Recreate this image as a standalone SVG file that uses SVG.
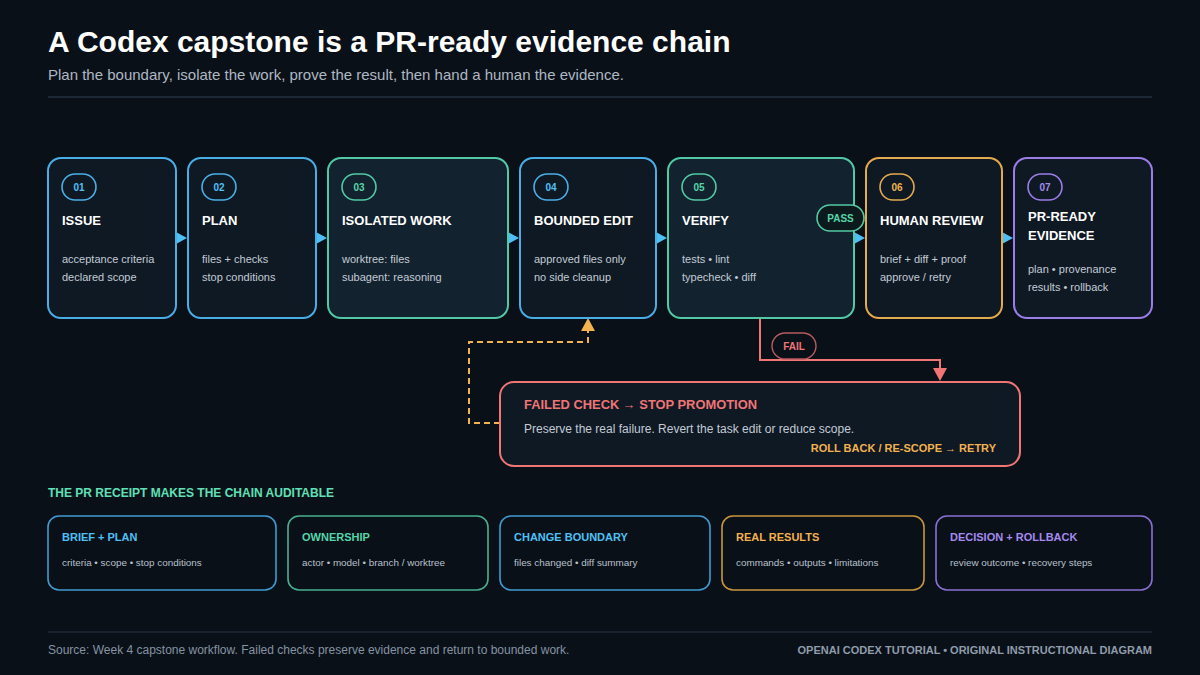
<svg xmlns="http://www.w3.org/2000/svg" width="1200" height="675" viewBox="0 0 1200 675">
<defs>
<style>
text{font-family:"Liberation Sans",Arial,sans-serif}
.node{stroke-width:2}
.blue{stroke:#4aaee6}
.green{stroke:#52c9a4}
.orange{stroke:#e3aa4e}
.purple{stroke:#9a7de6}
.fillA{fill:#0f1924}
.fillB{fill:#13222f}
.badge{fill:none;stroke-width:1.6}
.bnum{font-size:10px;font-weight:bold;text-anchor:middle}
.ttl{font-size:13px;font-weight:bold;fill:#ffffff}
.body{font-size:11px;fill:#c3cbd5}
.card{fill:#0a1018;stroke-width:1.6}
.ctitle{font-size:11px;font-weight:bold}
.cbody{font-size:9.9px;fill:#b8c1cc}
.flow{fill:#4fc0f5}
</style>
</defs>
<rect width="1200" height="675" fill="#0a1018"/>

<text x="48" y="52" font-size="30" font-weight="bold" fill="#ffffff">A Codex capstone is a PR-ready evidence chain</text>
<text x="48" y="80" font-size="15" fill="#aeb8c3">Plan the boundary, isolate the work, prove the result, then hand a human the evidence.</text>
<line x1="48" y1="97" x2="1152" y2="97" stroke="#1c2836" stroke-width="2"/>

<g id="connectors">
<polygon class="flow" points="176,232 187,238 176,244"/>
<polygon class="flow" points="316,232 327,238 316,244"/>
<polygon class="flow" points="508,232 519,238 508,244"/>
<polygon class="flow" points="656,232 667,238 656,244"/>
<polygon class="flow" points="854,232 865,238 854,244"/>
<polygon class="flow" points="1002,232 1013,238 1002,244"/>
<path d="M760,318 V360 H940 V369" fill="none" stroke="#f07575" stroke-width="2"/>
<polygon points="933,368 947,368 940,381" fill="#f07575"/>
<path d="M500,423 H469 V342 H588 V330" fill="none" stroke="#f2b24f" stroke-width="2" stroke-dasharray="6,4"/>
<polygon points="581,331 595,331 588,318" fill="#f2b24f"/>
</g>

<g id="n01">
<rect class="node blue fillA" x="48" y="158" width="128" height="160" rx="13"/>
<rect class="badge blue" x="62" y="174" width="34" height="26" rx="13"/>
<text class="bnum" x="79" y="191" fill="#4fc0f5">01</text>
<text class="ttl" x="62" y="225">ISSUE</text>
<text class="body" x="62" y="263">acceptance criteria</text>
<text class="body" x="62" y="281">declared scope</text>
</g>
<g id="n02">
<rect class="node blue fillA" x="188" y="158" width="128" height="160" rx="13"/>
<rect class="badge blue" x="202" y="174" width="34" height="26" rx="13"/>
<text class="bnum" x="219" y="191" fill="#4fc0f5">02</text>
<text class="ttl" x="202" y="225">PLAN</text>
<text class="body" x="202" y="263">files + checks</text>
<text class="body" x="202" y="281">stop conditions</text>
</g>
<g id="n03">
<rect class="node green fillB" x="328" y="158" width="180" height="160" rx="13"/>
<rect class="badge green" x="342" y="174" width="34" height="26" rx="13"/>
<text class="bnum" x="359" y="191" fill="#55d6a8">03</text>
<text class="ttl" x="342" y="225">ISOLATED WORK</text>
<text class="body" x="342" y="263">worktree: files</text>
<text class="body" x="342" y="281">subagent: reasoning</text>
</g>
<g id="n04">
<rect class="node blue fillA" x="520" y="158" width="136" height="160" rx="13"/>
<rect class="badge blue" x="534" y="174" width="34" height="26" rx="13"/>
<text class="bnum" x="551" y="191" fill="#4fc0f5">04</text>
<text class="ttl" x="534" y="225">BOUNDED EDIT</text>
<text class="body" x="534" y="263">approved files only</text>
<text class="body" x="534" y="281">no side cleanup</text>
</g>
<g id="n05">
<rect class="node green fillB" x="668" y="158" width="186" height="160" rx="13"/>
<rect class="badge green" x="682" y="174" width="34" height="26" rx="13"/>
<text class="bnum" x="699" y="191" fill="#55d6a8">05</text>
<text class="ttl" x="682" y="225">VERIFY</text>
<text class="body" x="682" y="263">tests • lint</text>
<text class="body" x="682" y="281">typecheck • diff</text>
</g>
<g id="pass">
<rect x="817" y="205" width="47" height="26" rx="13" fill="#0c1a1d" stroke="#52c9a4" stroke-width="1.6"/>
<text class="bnum" x="840.5" y="222" fill="#55d6a8">PASS</text>
</g>
<g id="n06">
<rect class="node orange fillA" x="866" y="158" width="136" height="160" rx="13"/>
<rect class="badge orange" x="880" y="174" width="34" height="26" rx="13"/>
<text class="bnum" x="897" y="191" fill="#f2b24f">06</text>
<text class="ttl" x="880" y="225">HUMAN REVIEW</text>
<text class="body" x="880" y="263">brief + diff + proof</text>
<text class="body" x="880" y="281">approve / retry</text>
</g>
<g id="n07">
<rect class="node purple fillA" x="1014" y="158" width="138" height="160" rx="13"/>
<rect class="badge purple" x="1028" y="174" width="34" height="26" rx="13"/>
<text class="bnum" x="1045" y="191" fill="#a58af0">07</text>
<text class="ttl" x="1028" y="221">PR-READY</text>
<text class="ttl" x="1028" y="240">EVIDENCE</text>
<text class="body" x="1028" y="273">plan • provenance</text>
<text class="body" x="1028" y="291">results • rollback</text>
</g>

<g id="fail">
<rect x="772" y="333" width="44" height="26" rx="13" fill="#0a1018" stroke="#b85a5f" stroke-width="1.4"/>
<text class="bnum" x="794" y="350" fill="#f07575">FAIL</text>
</g>
<g id="failed-check">
<rect x="500" y="382" width="520" height="84" rx="14" fill="#0f1924" stroke="#f07575" stroke-width="2"/>
<text x="524" y="409" font-size="12.9" font-weight="bold" fill="#f07575">FAILED CHECK → STOP PROMOTION</text>
<text x="524" y="433" font-size="12" fill="#c3cbd5">Preserve the real failure. Revert the task edit or reduce scope.</text>
<text x="996" y="452" font-size="11" font-weight="bold" fill="#f2b24f" text-anchor="end">ROLL BACK / RE-SCOPE → RETRY</text>
</g>

<text x="48" y="497" font-size="12" font-weight="bold" fill="#5fe0b6">THE PR RECEIPT MAKES THE CHAIN AUDITABLE</text>

<g id="c1">
<rect class="card" x="48" y="516" width="228" height="74" rx="11" stroke="#3f9bd0"/>
<text class="ctitle" x="62" y="541" fill="#4fc0f5">BRIEF + PLAN</text>
<text class="cbody" x="62" y="566">criteria • scope • stop conditions</text>
</g>
<g id="c2">
<rect class="card" x="288" y="516" width="200" height="74" rx="11" stroke="#46b08e"/>
<text class="ctitle" x="302" y="541" fill="#55d6a8">OWNERSHIP</text>
<text class="cbody" x="302" y="566">actor • model • branch / worktree</text>
</g>
<g id="c3">
<rect class="card" x="500" y="516" width="210" height="74" rx="11" stroke="#3f9bd0"/>
<text class="ctitle" x="514" y="541" fill="#4fc0f5">CHANGE BOUNDARY</text>
<text class="cbody" x="514" y="566">files changed • diff summary</text>
</g>
<g id="c4">
<rect class="card" x="722" y="516" width="202" height="74" rx="11" stroke="#c8963f"/>
<text class="ctitle" x="736" y="541" fill="#f2b24f">REAL RESULTS</text>
<text class="cbody" x="736" y="566">commands • outputs • limitations</text>
</g>
<g id="c5">
<rect class="card" x="936" y="516" width="216" height="74" rx="11" stroke="#8a6fd4"/>
<text class="ctitle" x="950" y="541" fill="#a58af0">DECISION + ROLLBACK</text>
<text class="cbody" x="950" y="566">review outcome • recovery steps</text>
</g>

<line x1="48" y1="632" x2="1152" y2="632" stroke="#1c2836" stroke-width="1.5"/>
<text x="48" y="654" font-size="12" fill="#8593a2">Source: Week 4 capstone workflow. Failed checks preserve evidence and return to bounded work.</text>
<text x="1152" y="654" font-size="11" font-weight="bold" fill="#8f9cab" text-anchor="end">OPENAI CODEX TUTORIAL • ORIGINAL INSTRUCTIONAL DIAGRAM</text>
</svg>
